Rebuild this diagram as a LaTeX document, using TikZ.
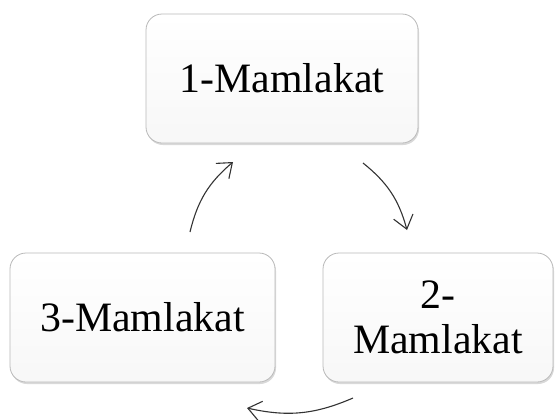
\documentclass[tikz,border=0pt]{standalone}
\usepackage{fontspec}
\setmainfont{Liberation Serif}
\usetikzlibrary{arrows.meta,shadows}

\tikzset{
	land/.style={draw=gray!55, line width=.8bp, fill=white, rounded corners=16bp,
		top color=white, bottom color=gray!6, align=center,
		font=\fontsize{42}{45}\selectfont, inner sep=0pt,
		drop shadow={opacity=.3, shadow xshift=1bp, shadow yshift=-2bp}},
	cyc/.style={draw=black!80, line width=1.1bp, {-Straight Barb[length=13bp,width=20bp]}}
}

\begin{document}
\begin{tikzpicture}[x=1bp, y=-1bp]
\useasboundingbox (0,0) rectangle (556,419);

\node[land, minimum width=272bp, minimum height=129bp] (m1) at (282,78.5) {1-Mamlakat};
\node[land, minimum width=230bp, minimum height=129bp] (m2) at (438,317.5) {2-\\Mamlakat};
\node[land, minimum width=265bp, minimum height=129bp] (m3) at (142.5,317.5) {3-Mamlakat};

% ends of the cycle arrows
\coordinate (p31) at (190,232);
\coordinate (p13) at (233,162);
\coordinate (p12) at (363,163);
\coordinate (p21) at (407,230);
\coordinate (p23) at (353,398);
\coordinate (p32) at (247,408);

\foreach \a/\b in {p31/p13, p12/p21, p23/p32}
	\draw[cyc] (\a) to[bend left=18] (\b);

\end{tikzpicture}
\end{document}
